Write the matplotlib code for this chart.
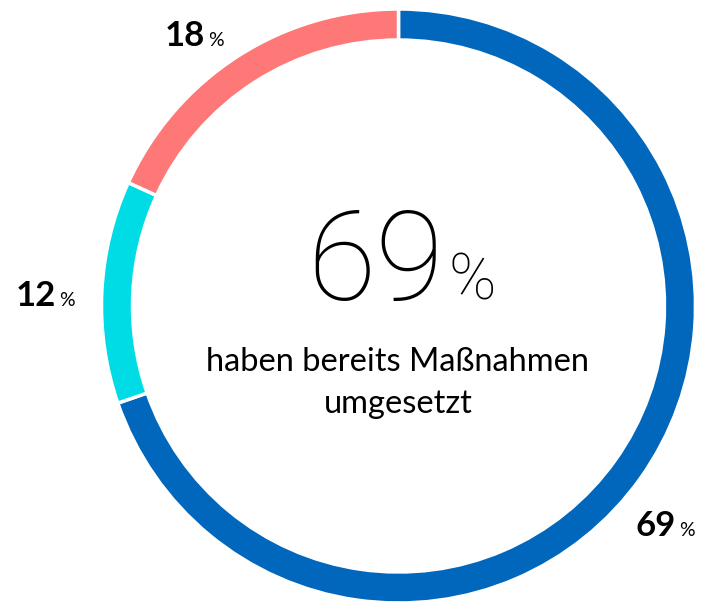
import matplotlib.pyplot as plt

labels = ["bereits umgesetzt", "geplant", "nicht geplant"]
values = [69, 12, 18]
colors = ["#0067BD", "#00DCE5", "#FF7878"]
center_value = 69
center_text = "haben bereits Maßnahmen\numgesetzt"

W, H = 703, 606
fig = plt.figure(figsize=(W / 100, H / 100), dpi=100)
ax = fig.add_axes([0, 0, 1, 1])

cx, cy = 398.5, H - 306
ax.pie(values, colors=colors, startangle=90, counterclock=False,
       radius=297, center=(cx, cy), frame=True,
       wedgeprops=dict(width=31, edgecolor="white", linewidth=2.5))
ax.set_xlim(0, W)
ax.set_ylim(0, H)
ax.set_aspect("equal")
ax.axis("off")

# big centre number
ax.text(444, H - 300, str(center_value), ha="right", va="baseline",
        fontsize=90, fontfamily="Roboto", fontweight="light", color="black")
ax.text(449, H - 300, "%", ha="left", va="baseline",
        fontsize=46, fontfamily="Roboto", fontweight="light", color="black")
ax.text(398, H - 383, center_text, ha="center", va="center",
        fontsize=23.5, fontfamily="Lato", color="black", linespacing=1.5)

# outer labels (number right edge x, baseline y in image px)
label_pos = [(205, 46), (56, 306), (676, 536)]
label_pos = [label_pos[2], label_pos[1], label_pos[0]]
for v, (x, y) in zip(values, label_pos):
    ax.text(x, H - y, str(v), ha="right", va="baseline",
            fontsize=25, fontfamily="Lato", fontweight="bold", color="black")
    ax.text(x + 3, H - y, "%", ha="left", va="baseline",
            fontsize=14, fontfamily="Lato", color="black")

fig.savefig("out.png", dpi=100)
